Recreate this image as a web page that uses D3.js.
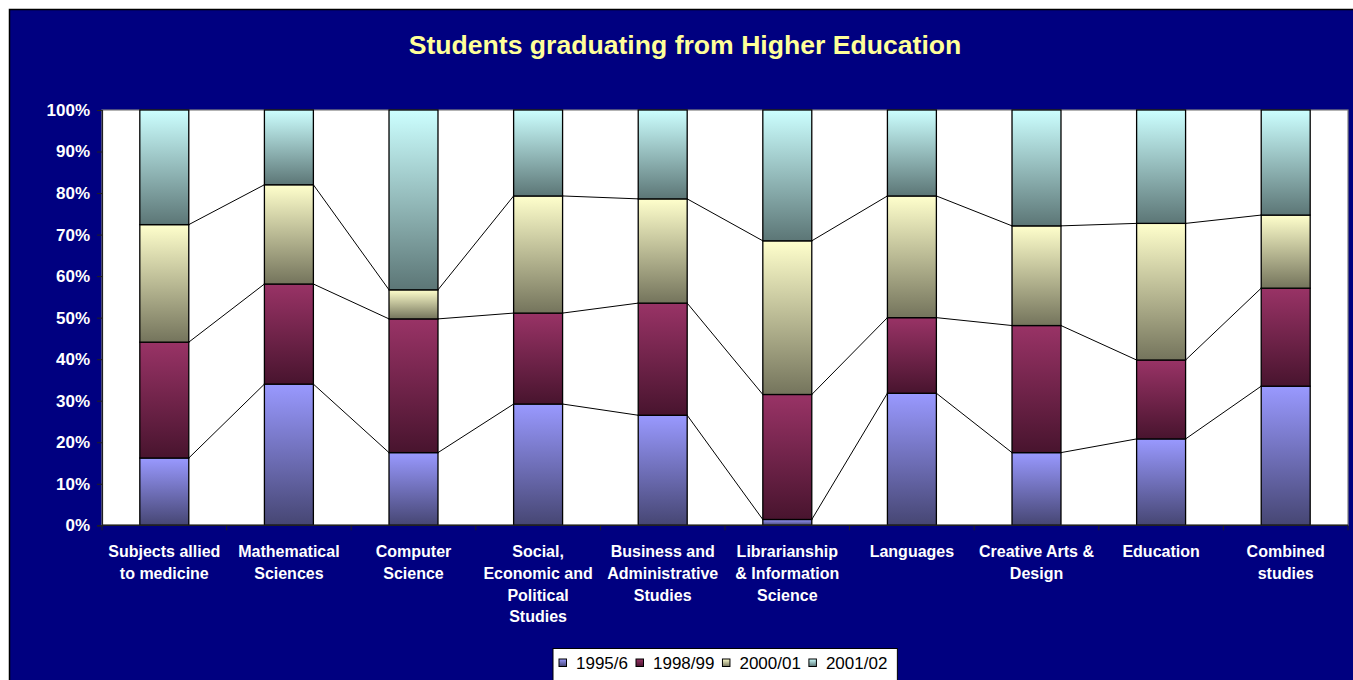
<!DOCTYPE html>
<html>
<head>
<meta charset="utf-8">
<script src="https://cdn.jsdelivr.net/npm/d3@7/dist/d3.min.js"></script>
<style>
  html, body { margin: 0; padding: 0; background: #ffffff; }
  svg { display: block; }
</style>
</head>
<body>
<svg id="chart" width="1353" height="680"></svg>
<script>
// ---- data ----
const categories = [
  "Subjects allied to medicine",
  "Mathematical Sciences",
  "Computer Science",
  "Social, Economic and Political Studies",
  "Business and Administrative Studies",
  "Librarianship & Information Science",
  "Languages",
  "Creative Arts & Design",
  "Education",
  "Combined studies"
];
const categoryLines = [
  ["Subjects allied", "to medicine"],
  ["Mathematical", "Sciences"],
  ["Computer", "Science"],
  ["Social,", "Economic and", "Political", "Studies"],
  ["Business and", "Administrative", "Studies"],
  ["Librarianship", "& Information", "Science"],
  ["Languages"],
  ["Creative Arts &", "Design"],
  ["Education"],
  ["Combined", "studies"]
];
const seriesNames = ["1995/6", "1998/99", "2000/01", "2001/02"];
const s1995 = [16.2, 34.0, 17.5, 29.2, 26.5, 1.4, 31.8, 17.5, 20.8, 33.5];
const s1998 = [27.9, 24.1, 32.2, 21.9, 27.0, 30.1, 18.2, 30.6, 19.0, 23.6];
const s2000 = [28.3, 23.9, 7.0, 28.2, 25.1, 37.0, 29.3, 24.0, 32.9, 17.6];
const s2001 = [27.6, 18.0, 43.3, 20.7, 21.4, 31.5, 20.7, 27.9, 27.3, 25.3];
const yTicks = [0, 0.1, 0.2, 0.3, 0.4, 0.5, 0.6, 0.7, 0.8, 0.9, 1.0];
const titleText = "Students graduating from Higher Education";

// ---- styles ----
const gradStops = [
  ["#9999ff", "#464673"],
  ["#993366", "#48142e"],
  ["#ffffcc", "#74745c"],
  ["#ccffff", "#5c7676"]
];
const FONT = "'Liberation Sans', Arial, sans-serif";

const svg = d3.select("#chart");
const W = 1353, H = 680;
const plot = { left: 102, right: 1348, top: 110, bottom: 525.3 };

// gradients
const defs = svg.append("defs");
gradStops.forEach((g, i) => {
  const lg = defs.append("linearGradient")
    .attr("id", "grad" + i)
    .attr("x1", 0).attr("y1", 0).attr("x2", 0).attr("y2", 1);
  lg.append("stop").attr("offset", "0%").attr("stop-color", g[0]);
  lg.append("stop").attr("offset", "100%").attr("stop-color", g[1]);
});

// outer navy panel
svg.append("rect").attr("x", 0).attr("y", 0).attr("width", W).attr("height", H).attr("fill", "#ffffff");
svg.append("rect")
  .attr("x", 9.5).attr("y", 9.5).attr("width", W).attr("height", H)
  .attr("fill", "#000080").attr("stroke", "#000000").attr("stroke-width", 1.5);

// title
svg.append("text")
  .attr("x", 685).attr("y", 54)
  .attr("text-anchor", "middle")
  .attr("font-family", FONT).attr("font-weight", "bold").attr("font-size", 26.6)
  .attr("fill", "#ffff99")
  .text(titleText);

// scales
const x = d3.scaleBand().domain(categories)
  .range([plot.left, plot.right])
  .paddingInner(0.607).paddingOuter(0.3035);
const y = d3.scaleLinear().domain([0, 1]).range([plot.bottom, plot.top]);

// plot area
svg.append("rect")
  .attr("x", plot.left).attr("y", plot.top)
  .attr("width", plot.right - plot.left).attr("height", plot.bottom - plot.top)
  .attr("fill", "#ffffff").attr("stroke", "#808080").attr("stroke-width", 1.2);

// stacked percentages
const rows = categories.map((c, i) => {
  const vals = [s1995[i], s1998[i], s2000[i], s2001[i]];
  const total = d3.sum(vals);
  const o = { cat: c };
  seriesNames.forEach((s, k) => { o[s] = vals[k] / total; });
  return o;
});
const stack = d3.stack().keys(seriesNames);
const stacked = stack(rows);

// series lines (connect tops between adjacent bars)
const lineG = svg.append("g");
stacked.slice(0, 3).forEach(layer => {
  for (let i = 0; i < layer.length - 1; i++) {
    lineG.append("line")
      .attr("x1", x(categories[i]) + x.bandwidth())
      .attr("y1", y(layer[i][1]))
      .attr("x2", x(categories[i + 1]))
      .attr("y2", y(layer[i + 1][1]))
      .attr("stroke", "#000000").attr("stroke-width", 1);
  }
});

// bars
const barG = svg.append("g");
stacked.forEach((layer, k) => {
  barG.selectAll(null).data(layer).enter().append("rect")
    .attr("x", d => x(d.data.cat))
    .attr("y", d => y(d[1]))
    .attr("width", x.bandwidth())
    .attr("height", d => y(d[0]) - y(d[1]))
    .attr("fill", "url(#grad" + k + ")")
    .attr("stroke", "#000000").attr("stroke-width", 1.3);
});

// y axis
const yAxis = d3.axisLeft(y).tickValues(yTicks).tickFormat(d3.format(".0%")).tickSize(5).tickPadding(7);
const ya = svg.append("g").attr("transform", `translate(${plot.left},0)`).call(yAxis);
ya.select(".domain").attr("stroke", "#202020").attr("stroke-width", 1.2);
ya.selectAll(".tick line").attr("stroke", "#202020");
ya.selectAll(".tick text")
  .attr("fill", "#ffffff").attr("font-family", FONT).attr("font-weight", "bold").attr("font-size", 17);

// x axis line and ticks at band boundaries
svg.append("line")
  .attr("x1", plot.left).attr("x2", plot.right)
  .attr("y1", plot.bottom).attr("y2", plot.bottom)
  .attr("stroke", "#202020").attr("stroke-width", 1.5);
const step = x.step();
d3.range(categories.length + 1).forEach(k => {
  const xx = plot.left + k * step;
  svg.append("line")
    .attr("x1", xx).attr("x2", xx)
    .attr("y1", plot.bottom).attr("y2", plot.bottom + 5)
    .attr("stroke", "#202020").attr("stroke-width", 1);
});

// x labels
categories.forEach((c, i) => {
  const t = svg.append("text")
    .attr("x", x(c) + x.bandwidth() / 2)
    .attr("y", 557)
    .attr("text-anchor", "middle")
    .attr("font-family", FONT).attr("font-weight", "bold").attr("font-size", 16)
    .attr("fill", "#ffffff");
  categoryLines[i].forEach((ln, j) => {
    t.append("tspan").attr("x", x(c) + x.bandwidth() / 2).attr("y", 557 + j * 21.8).text(ln);
  });
});

// legend
const lg = svg.append("g");
const lgBox = lg.append("rect")
  .attr("x", 553).attr("y", 648.5).attr("height", 40)
  .attr("fill", "#ffffff").attr("stroke", "#000000").attr("stroke-width", 1);
let lx = 559;
seriesNames.forEach((s, k) => {
  lg.append("rect")
    .attr("x", lx).attr("y", 659).attr("width", 7.5).attr("height", 7.5)
    .attr("fill", "url(#grad" + k + ")").attr("stroke", "#000000").attr("stroke-width", 1);
  const tx = lg.append("text")
    .attr("x", lx + 17).attr("y", 669)
    .attr("font-family", FONT).attr("font-size", 17).attr("fill", "#000000")
    .text(s);
  lx = lx + 17 + tx.node().getComputedTextLength() + 8;
});
lgBox.attr("width", lx - 553 + 2);
</script>
</body>
</html>
